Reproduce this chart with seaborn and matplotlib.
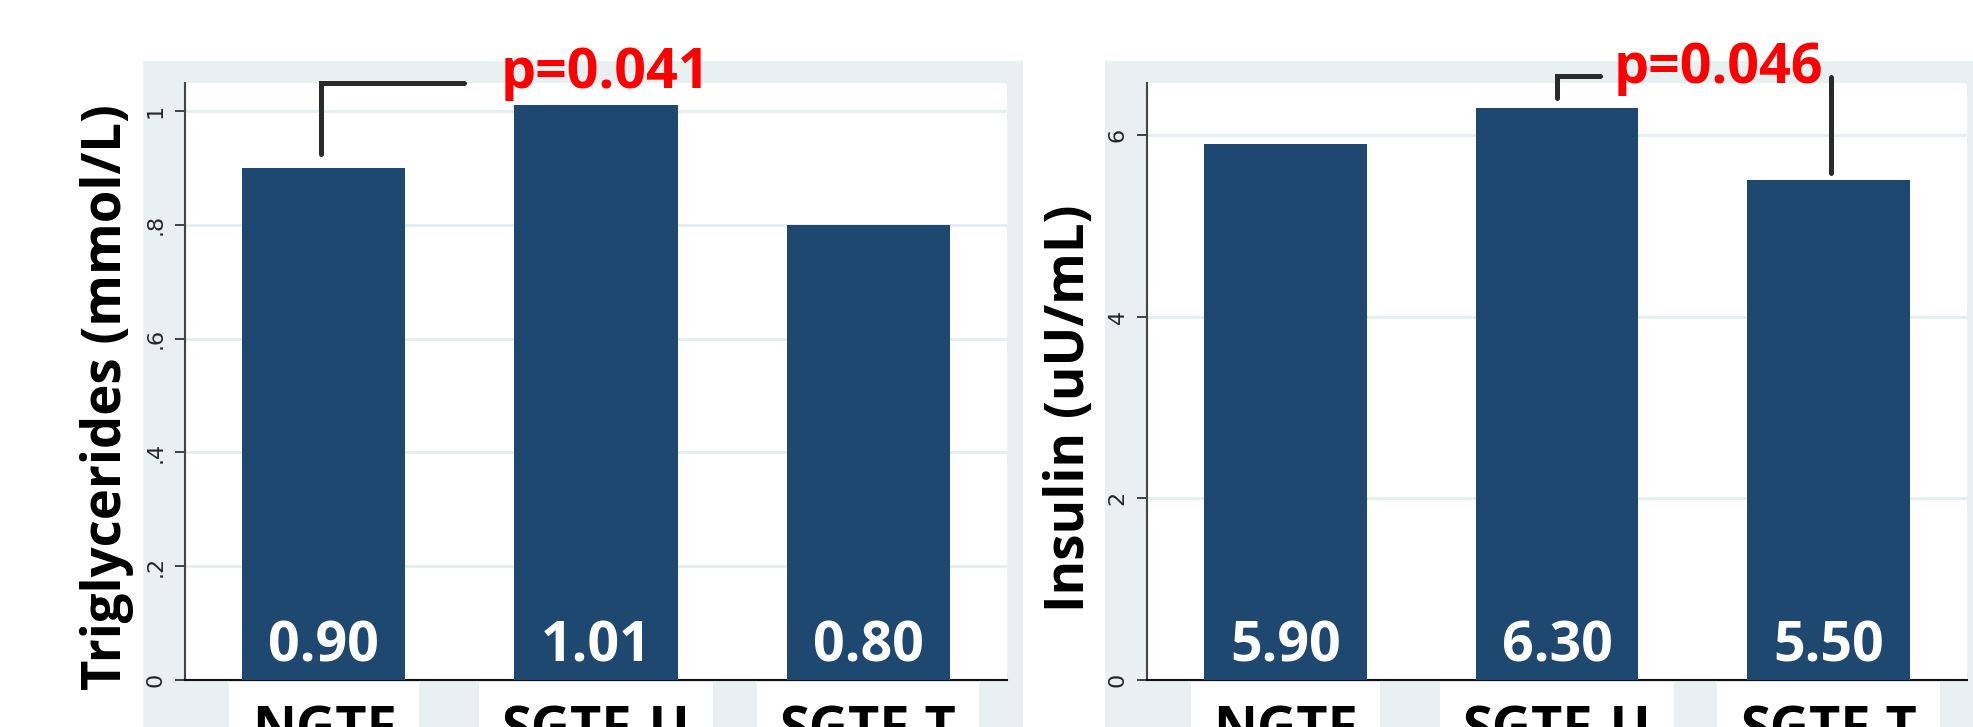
import matplotlib
matplotlib.use("Agg")
import matplotlib.pyplot as plt
import seaborn as sns
import pandas as pd
from matplotlib.patches import Rectangle

# ---- data ----
groups = ["NGTF", "SGTF-U", "SGTF-T"]
triglycerides = [0.90, 1.01, 0.80]
insulin = [5.90, 6.30, 5.50]
tg_ticks = [0, 0.2, 0.4, 0.6, 0.8, 1.0]
tg_ticklabels = ["0", ".2", ".4", ".6", ".8", "1"]
ins_ticks = [0, 2, 4, 6]
ins_ticklabels = ["0", "2", "4", "6"]
p_left = "p=0.041"
p_right = "p=0.046"

sns.set_theme(style="white")
plt.rcParams['font.family'] = ['Open Sans', 'DejaVu Sans']

W, H = 1974, 727
fig = plt.figure(figsize=(W / 100, H / 100), dpi=100)
fig.patch.set_facecolor("white")

BG = "#e8f0f2"
BAR = "#1e4870"
GRID = "#e4eef0"

def fx(px):
    return px / W

def fy(py):
    return 1 - py / H

# panel backgrounds
fig.patches.append(Rectangle((fx(143), 0), fx(1023) - fx(143), fy(61), transform=fig.transFigure,
                             facecolor=BG, edgecolor="none", zorder=-10))
fig.patches.append(Rectangle((fx(1105), 0), fx(1974) - fx(1105), fy(61), transform=fig.transFigure,
                             facecolor=BG, edgecolor="none", zorder=-10))

def make_axes(left, right, top, bottom):
    return fig.add_axes([fx(left), fy(bottom), fx(right) - fx(left), fy(top) - fy(bottom)])

ax1 = make_axes(185, 1007, 83, 680)
ax2 = make_axes(1147, 1967, 83, 680)

def style_axes(ax, values, ticks, ticklabels, ymax, fmt):
    df = pd.DataFrame({"group": groups, "value": values})
    sns.barplot(data=df, x="group", y="value", ax=ax, color=BAR, saturation=1,
                width=0.6, edgecolor="none", zorder=3)
    ax.set_facecolor("white")
    ax.set_xlim(-0.51, 2.51)
    ax.set_ylim(0, ymax)
    ax.set_yticks(ticks)
    ax.set_yticklabels(ticklabels, rotation=90, va="center", fontsize=16,
                       family=["DejaVu Sans"])
    ax.grid(axis="y", color=GRID, linewidth=2, zorder=0)
    ax.set_axisbelow(True)
    ax.tick_params(axis="y", length=7, width=1.3, color="#333333", pad=7, left=True)
    ax.tick_params(axis="x", length=0, pad=18)
    for sp in ["top", "right"]:
        ax.spines[sp].set_visible(False)
    ax.spines["left"].set_color("#444444")
    ax.spines["left"].set_linewidth(1.5)
    ax.spines["bottom"].set_color("#111111")
    ax.spines["bottom"].set_linewidth(1.5)
    ax.set_xlabel("")
    ax.set_ylabel("")
    ax.set_xticks(range(len(groups)))
    ax.set_xticklabels(groups, fontsize=39, fontweight="bold", color="black")
    for lab in ax.get_xticklabels():
        lab.set_bbox(dict(facecolor="white", edgecolor="none", boxstyle="square,pad=0.42"))
    for i, v in enumerate(values):
        ax.annotate(fmt.format(v), xy=(i, 0), xytext=(0, 13.5), textcoords="offset points",
                    ha="center", va="baseline", color="white", fontsize=40,
                    fontweight="bold", zorder=5)

style_axes(ax1, triglycerides, tg_ticks, tg_ticklabels, 1.049, "{:.2f}")
style_axes(ax2, insulin, ins_ticks, ins_ticklabels, 6.57, "{:.2f}")

# y-axis titles
fig.text(fx(107), fy(397), "Triglycerides (mmol/L)", rotation=90, ha="center", va="center",
         fontsize=38, fontweight="bold", color="black")
fig.text(fx(1070), fy(408), "Insulin (uU/mL)", rotation=90, ha="center", va="center",
         fontsize=38, fontweight="bold", color="black")

# significance brackets
LC = "#2a2a2a"
ax1.plot([-0.01, -0.01, 0.514], [0.924, 1.049, 1.049], color=LC, lw=3.6,
         clip_on=False, zorder=6, solid_joinstyle="miter")
ax1.text(0.65, 1.040, p_left, color="#ff0000", fontsize=40, fontweight="bold",
         ha="left", va="baseline", clip_on=False)

ax2.plot([1.0, 1.0, 1.16], [6.41, 6.65, 6.65], color=LC, lw=3.6,
         clip_on=False, zorder=6, solid_joinstyle="miter")
ax2.plot([2.01, 2.01], [6.64, 5.58], color=LC, lw=3.6, clip_on=False, zorder=6)
ax2.text(1.21, 6.57, p_right, color="#ff0000", fontsize=40, fontweight="bold",
         ha="left", va="baseline", clip_on=False)

fig.savefig("out.png", dpi=100)
